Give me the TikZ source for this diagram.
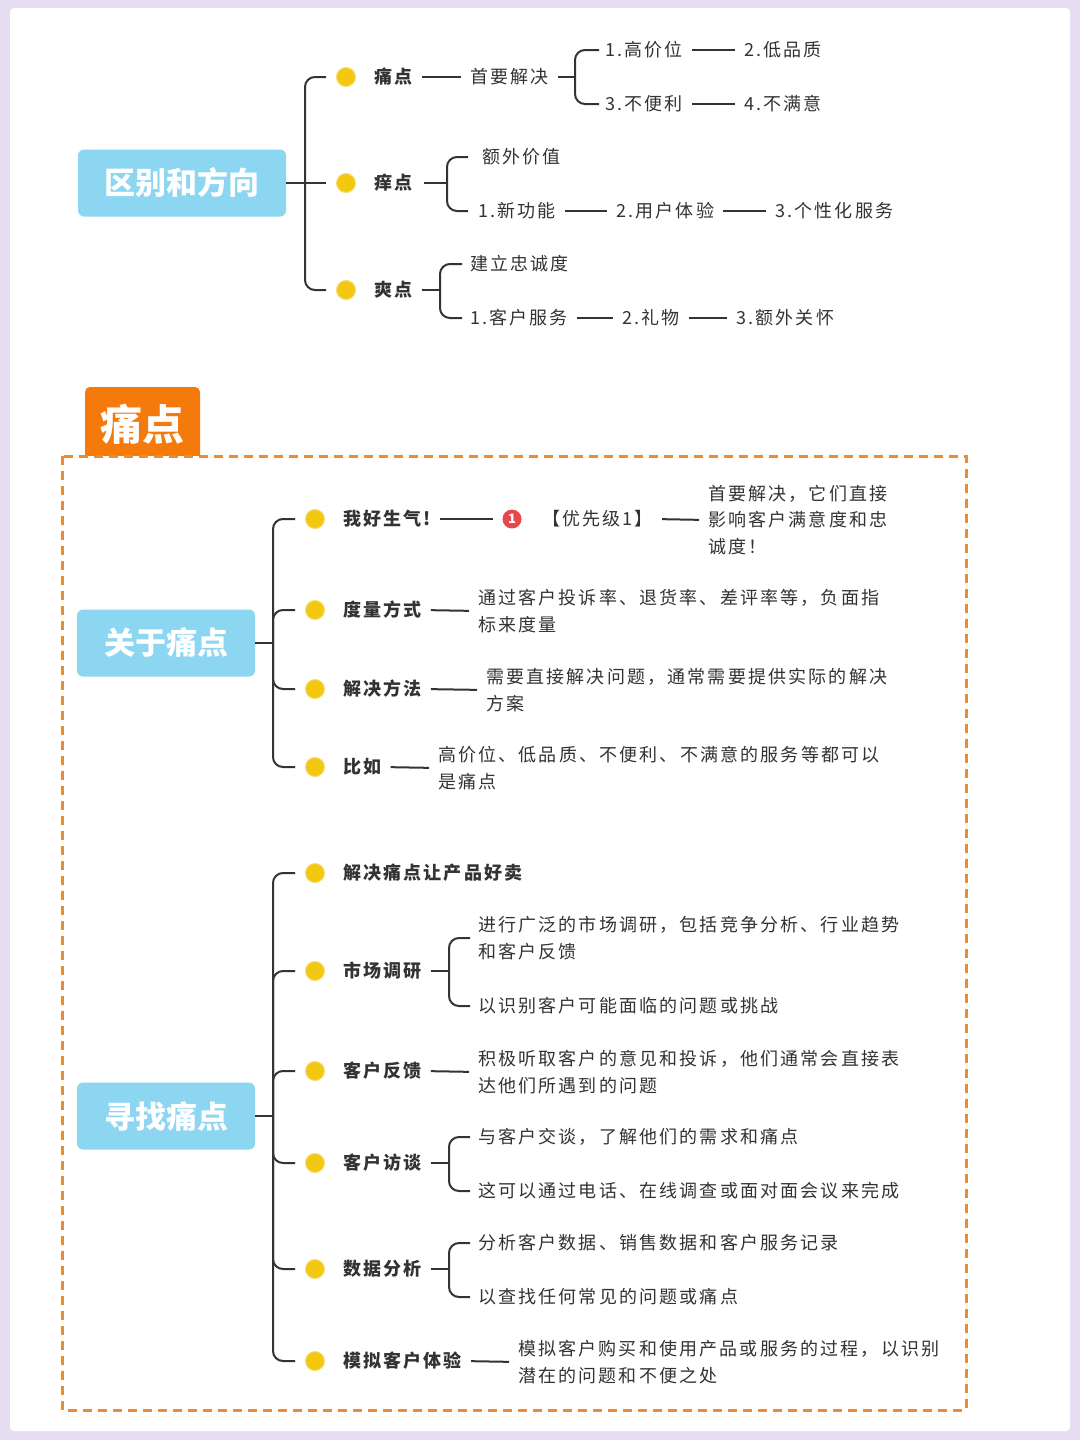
\documentclass[tikz,border=0pt]{standalone}
\usepackage{fontspec}
\setmainfont{Noto Sans CJK SC}
\newfontfamily\wide[LetterSpace=12]{Noto Sans CJK SC}
\usetikzlibrary{calc}
\definecolor{lav}{HTML}{E6DDF3}
\definecolor{sky}{HTML}{8DD6F2}
\definecolor{org}{HTML}{F57A0C}
\definecolor{dashorg}{HTML}{F08A30}
\definecolor{dotc}{HTML}{F2C811}
\definecolor{ink}{HTML}{333333}
\definecolor{redi}{HTML}{E8474C}
\tikzset{
  rootbox/.style={fill=sky,rounded corners=6pt,text=white,font=\fontsize{31}{34}\selectfont\bfseries,minimum width=178pt,minimum height=67pt,inner sep=0},
  ydot/.style={circle,fill=dotc,draw=dotc!60!white,line width=1pt,minimum size=19pt,inner sep=0},
  lab/.style={anchor=west,inner sep=0,text=ink,font=\wide\fontsize{18}{26}\selectfont\bfseries},
  txt/.style={anchor=west,inner sep=0,text=ink,font=\wide\fontsize{18}{26.5}\selectfont,align=left},
  ln/.style={draw=ink,line width=2pt,shorten <=9pt,shorten >=9pt},
  br/.style={draw=ink,line width=2pt,rounded corners=10pt},
}
\begin{document}
\begin{tikzpicture}[x=1pt,y=-1pt]
\useasboundingbox (0,0) rectangle (1080,1440);
\fill[lav] (0,0) rectangle (1080,1440);
\fill[white,rounded corners=4pt] (10,8) rectangle (1070,1431);

% ---------- Top section
\node[rootbox,minimum width=208pt] (r1) at (182,183) {区别和方向};
\node[ydot] (d1) at (346,77) {};
\node[ydot] (d2) at (346,183) {};
\node[ydot] (d3) at (346,290) {};
\coordinate (v1) at (305,183);
\draw[br] ($(d1.west)+(-10,0)$) -| (v1) |- ($(d3.west)+(-10,0)$);
\draw[br] (r1.east) -- (v1) -- ($(d2.west)+(-10,0)$);
\node[lab] (t1) at (374,77) {痛点};
\node[lab] (t2) at (374,183) {痒点};
\node[lab] (t3) at (374,290) {爽点};

\node[txt] (a1) at (470,77) {首要解决};
\draw[ln] (t1.east) -- (a1.west);
\node[txt] (a11) at (605,50) {1.高价位};
\node[txt] (a12) at (605,104) {3.不便利};
\node[txt] (a13) at (744,50) {2.低品质};
\node[txt] (a14) at (744,104) {4.不满意};
\coordinate (v2) at (575,77);
\draw[br] ($(a11.west)+(-6,0)$) -| (v2) |- ($(a12.west)+(-6,0)$);
\draw[br] ($(a1.east)+(9,0)$) -- (v2);
\draw[ln] (a11.east) -- (a13.west);
\draw[ln] (a12.east) -- (a14.west);

\node[txt] (b1) at (482,157) {额外价值};
\node[txt] (b2) at (478,211) {1.新功能};
\node[txt] (b3) at (616,211) {2.用户体验};
\node[txt] (b4) at (775,211) {3.个性化服务};
\coordinate (v3) at (447,183);
\draw[br] ($(b1.west)+(-14,0)$) -| (v3) |- ($(b2.west)+(-10,0)$);
\draw[br] ($(t2.east)+(11,0)$) -- (v3);
\draw[ln] (b2.east) -- (b3.west);
\draw[ln] (b3.east) -- (b4.west);

\node[txt] (c1) at (470,264) {建立忠诚度};
\node[txt] (c2) at (470,318) {1.客户服务};
\node[txt] (c3) at (622,318) {2.礼物};
\node[txt] (c4) at (736,318) {3.额外关怀};
\coordinate (v4) at (440,290);
\draw[br] ($(c1.west)+(-8,0)$) -| (v4) |- ($(c2.west)+(-8,0)$);
\draw[br] ($(t3.east)+(9,0)$) -- (v4);
\draw[ln] (c2.east) -- (c3.west);
\draw[ln] (c3.east) -- (c4.west);

% ---------- Tab and dashed frame
\fill[org,rounded corners=5pt] (85,387) rectangle (200,470);
\node[inner sep=0,text=white,font=\fontsize{42}{44}\selectfont\bfseries] (tab) at (142,424) {痛点};
\fill[white] (60,456) rectangle (968,1412);
\draw[dashorg,line width=3pt,dash pattern=on 9pt off 6pt] (62,456) rectangle (966,1410);

% ---------- 关于痛点
\node[rootbox] (r2) at (166,643) {关于痛点};
\foreach \n/\y in {e1/519,e2/610,e3/689,e4/767}{\node[ydot] (\n) at (315,\y) {};}
\coordinate (v5) at (273,643);
\draw[br] ($(e1.west)+(-10,0)$) -| (v5) |- ($(e4.west)+(-10,0)$);
\draw[br] (r2.east) -- (v5);
\draw[br] (v5) |- ($(e2.west)+(-10,0)$);
\draw[br] (v5) |- ($(e3.west)+(-10,0)$);
\node[lab] (f1) at (343,519) {我好生气!};
\node[lab] (f2) at (343,610) {度量方式};
\node[lab] (f3) at (343,689) {解决方法};
\node[lab] (f4) at (343,767) {比如};

\node[circle,fill=redi,minimum size=19pt,inner sep=0,text=white,font=\fontsize{13}{13}\selectfont\bfseries] (g0) at (512,519) {1};
\draw[ln] (f1.east) -- (g0.west);
\node[txt] (g1) at (542,519) {【优先级1】};
\node[txt] (g2) at (708,520) {首要解决，它们直接\\影响客户满意度和忠\\诚度！};
\draw[ln] (g1.east) -- (g2.west);
\node[txt] (h2) at (478,611) {通过客户投诉率、退货率、差评率等，负面指\\标来度量};
\draw[ln] (f2.east) -- (h2.west);
\node[txt] (h3) at (486,690) {需要直接解决问题，通常需要提供实际的解决\\方案};
\draw[ln] (f3.east) -- (h3.west);
\node[txt] (h4) at (438,768) {高价位、低品质、不便利、不满意的服务等都可以\\是痛点};
\draw[ln] (f4.east) -- (h4.west);

% ---------- 寻找痛点
\node[rootbox] (r3) at (166,1116) {寻找痛点};
\foreach \n/\y in {k1/873,k2/971,k3/1071,k4/1163,k5/1269,k6/1361}{\node[ydot] (\n) at (315,\y) {};}
\coordinate (v6) at (273,1116);
\draw[br] ($(k1.west)+(-10,0)$) -| (v6) |- ($(k6.west)+(-10,0)$);
\draw[br] (r3.east) -- (v6);
\foreach \n in {k2,k3,k4,k5}{\draw[br] (v6) |- ($(\n.west)+(-10,0)$);}
\node[lab] (m1) at (343,873) {解决痛点让产品好卖};
\node[lab] (m2) at (343,971) {市场调研};
\node[lab] (m3) at (343,1071) {客户反馈};
\node[lab] (m4) at (343,1163) {客户访谈};
\node[lab] (m5) at (343,1269) {数据分析};
\node[lab] (m6) at (343,1361) {模拟客户体验};

\node[txt] (n21) at (478,938) {进行广泛的市场调研，包括竞争分析、行业趋势\\和客户反馈};
\node[txt] (n22) at (478,1006) {以识别客户可能面临的问题或挑战};
\coordinate (v7) at (449,971);
\draw[br] ($(n21.west)+(-8,0)$) -| (v7) |- ($(n22.west)+(-8,0)$);
\draw[br] ($(m2.east)+(9,0)$) -- (v7);

\node[txt] (n3) at (478,1072) {积极听取客户的意见和投诉，他们通常会直接表\\达他们所遇到的问题};
\draw[ln] (m3.east) -- (n3.west);

\node[txt] (n41) at (478,1137) {与客户交谈，了解他们的需求和痛点};
\node[txt] (n42) at (478,1191) {这可以通过电话、在线调查或面对面会议来完成};
\coordinate (v8) at (449,1163);
\draw[br] ($(n41.west)+(-8,0)$) -| (v8) |- ($(n42.west)+(-8,0)$);
\draw[br] ($(m4.east)+(9,0)$) -- (v8);

\node[txt] (n51) at (478,1243) {分析客户数据、销售数据和客户服务记录};
\node[txt] (n52) at (478,1297) {以查找任何常见的问题或痛点};
\coordinate (v9) at (449,1269);
\draw[br] ($(n51.west)+(-8,0)$) -| (v9) |- ($(n52.west)+(-8,0)$);
\draw[br] ($(m5.east)+(9,0)$) -- (v9);

\node[txt] (n6) at (518,1362) {模拟客户购买和使用产品或服务的过程，以识别\\潜在的问题和不便之处};
\draw[ln] (m6.east) -- (n6.west);
\end{tikzpicture}
\end{document}
